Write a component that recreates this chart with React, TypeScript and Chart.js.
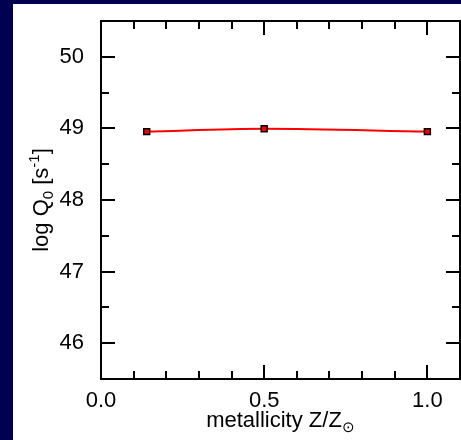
import React, { useEffect, useRef } from "react";
import { Chart, registerables } from "chart.js";

Chart.register(...registerables);

// ---- data ----
const metallicity = [0.14, 0.5, 1.0];
const logQ0 = [48.955, 48.995, 48.955];

const xMajorTicks = [0.0, 0.5, 1.0];
const xMinorTicks = [0.1, 0.2, 0.3, 0.4, 0.6, 0.7, 0.8, 0.9];
const yMajorTicks = [46, 47, 48, 49, 50];
const yMinorTicks = [46.5, 47.5, 48.5, 49.5];
const xRange = [0, 1.1];
const yRange = [45.5, 50.5];

type Run = { text: string; kind: "n" | "sub" | "sup" };
const xTitleRuns: Run[] = [
  { text: "metallicity Z/Z", kind: "n" },
  { text: "\u2299", kind: "sub" },
];
const yTitleRuns: Run[] = [
  { text: "log Q", kind: "n" },
  { text: "0", kind: "sub" },
  { text: " [s", kind: "n" },
  { text: "-1", kind: "sup" },
  { text: "]", kind: "n" },
];

const FONT = '"Liberation Sans", Arial, Helvetica, sans-serif';
const NAVY = "#000050";
const FS = 22;

function drawRuns(
  ctx: CanvasRenderingContext2D,
  runs: Run[],
  cx: number,
  cy: number,
  rotate: boolean
) {
  ctx.save();
  ctx.translate(cx, cy);
  if (rotate) ctx.rotate(-Math.PI / 2);
  ctx.fillStyle = "#000";
  ctx.textBaseline = "alphabetic";
  ctx.textAlign = "left";
  const fontFor = (k: Run["kind"]) => (k === "n" ? `${FS}px ${FONT}` : `15px ${FONT}`);
  const dyFor = (k: Run["kind"]) => (k === "sub" ? 5 : k === "sup" ? -9 : 0);
  const widths = runs.map((r) => {
    ctx.font = fontFor(r.kind);
    return ctx.measureText(r.text).width;
  });
  const total = widths.reduce((a, b) => a + b, 0);
  let x = -total / 2;
  runs.forEach((r, i) => {
    ctx.font = fontFor(r.kind);
    ctx.fillText(r.text, x, dyFor(r.kind));
    x += widths[i];
  });
  ctx.restore();
}

const framePlugin = {
  id: "insideFrame",
  afterDraw(chart: any) {
    const { ctx, chartArea } = chart;
    const xs = chart.scales.x;
    const ys = chart.scales.y;
    const { left, right, top, bottom } = chartArea;
    ctx.save();
    ctx.strokeStyle = "#000";
    ctx.lineWidth = 2;
    ctx.lineCap = "butt";
    const MAJ = 14;
    const MIN = 8;
    ctx.beginPath();
    const xt = (v: number, len: number) => {
      const px = Math.round(xs.getPixelForValue(v));
      ctx.moveTo(px, bottom);
      ctx.lineTo(px, bottom - len);
      ctx.moveTo(px, top);
      ctx.lineTo(px, top + len);
    };
    const yt = (v: number, len: number) => {
      const py = Math.round(ys.getPixelForValue(v));
      ctx.moveTo(left, py);
      ctx.lineTo(left + len, py);
      ctx.moveTo(right, py);
      ctx.lineTo(right - len, py);
    };
    xMajorTicks.forEach((v) => xt(v, MAJ));
    xMinorTicks.forEach((v) => xt(v, MIN));
    yMajorTicks.forEach((v) => yt(v, MAJ));
    yMinorTicks.forEach((v) => yt(v, MIN));
    ctx.stroke();
    ctx.strokeRect(left, top, right - left, bottom - top);
    ctx.restore();

    drawRuns(ctx, xTitleRuns, (left + right) / 2, 427, false);
    drawRuns(ctx, yTitleRuns, 48, (top + bottom) / 2, true);
  },
};

const zeroPad = (s: any) => {
  s.paddingTop = 0;
  s.paddingBottom = 0;
  s.paddingLeft = 0;
  s.paddingRight = 0;
};

export default function App() {
  const ref = useRef<HTMLCanvasElement | null>(null);
  useEffect(() => {
    if (!ref.current) return;
    const chart = new Chart(ref.current, {
      type: "line",
      data: {
        datasets: [
          {
            data: metallicity.map((x, i) => ({ x, y: logQ0[i] })),
            borderColor: "#ff0000",
            borderWidth: 2,
            cubicInterpolationMode: "monotone",
            pointStyle: "rect",
            pointRadius: 4.2,
            pointBorderColor: "#000",
            pointBorderWidth: 1.5,
            pointBackgroundColor: "#ff0000",
            fill: false,
          },
        ],
      },
      options: {
        responsive: false,
        animation: false,
        layout: { autoPadding: false, padding: { left: 0, top: 21, right: 1, bottom: 0 } },
        plugins: { legend: { display: false }, tooltip: { enabled: false } },
        scales: {
          x: {
            type: "linear",
            min: xRange[0],
            max: xRange[1],
            grid: { display: false, drawTicks: false },
            border: { display: false },
            afterBuildTicks: (s: any) => {
              s.ticks = xMajorTicks.map((v) => ({ value: v }));
            },
            afterFit: (s: any) => {
              s.height = 61;
              zeroPad(s);
            },
            ticks: {
              padding: 9,
              color: "#000",
              font: { family: FONT, size: FS },
              maxRotation: 0,
              callback: (v: any) => Number(v).toFixed(1),
            },
          },
          y: {
            type: "linear",
            min: yRange[0],
            max: yRange[1],
            grid: { display: false, drawTicks: false },
            border: { display: false },
            afterBuildTicks: (s: any) => {
              s.ticks = yMajorTicks.map((v) => ({ value: v }));
            },
            afterFit: (s: any) => {
              s.width = 101;
              zeroPad(s);
            },
            ticks: {
              padding: 17,
              color: "#000",
              font: { family: FONT, size: FS },
              callback: (v: any) => String(v),
            },
          },
        },
      },
      plugins: [framePlugin],
    });
    return () => chart.destroy();
  }, []);

  return (
    <div style={{ position: "fixed", left: 0, top: 0, width: 461, height: 440, background: NAVY, overflow: "hidden" }}>
      <div style={{ position: "absolute", left: 13, top: 4, right: 0, bottom: 0, background: "#fff" }} />
      <canvas ref={ref} width={461} height={440} style={{ position: "absolute", left: 0, top: 0, width: 461, height: 440 }} />
    </div>
  );
}
